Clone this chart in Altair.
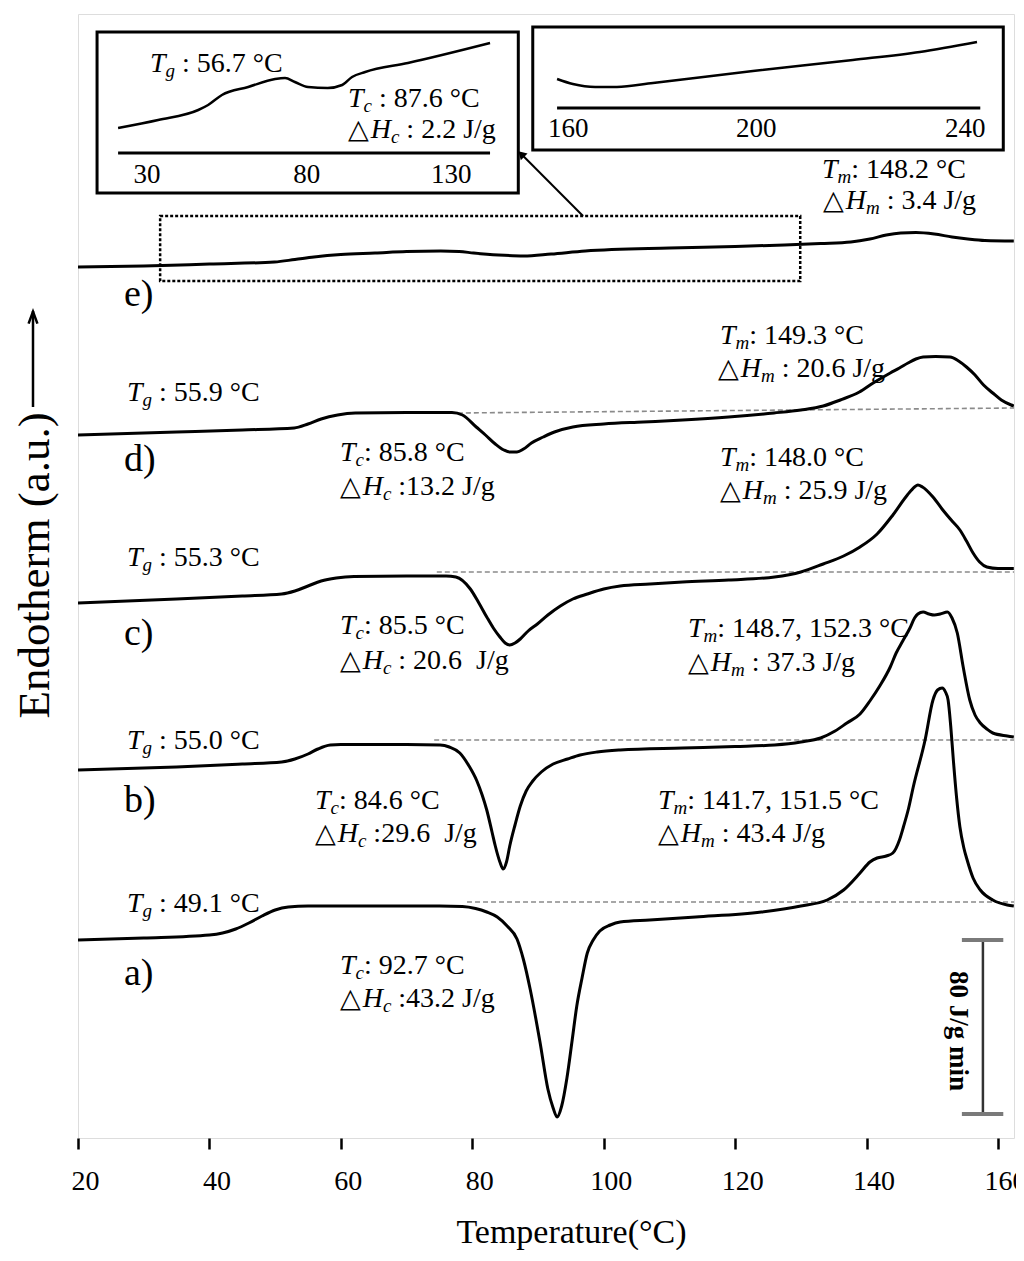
import altair as alt
import pandas as pd

# ---------------- scales / layout ----------------
X_MIN, X_MAX = 20.0, 162.43
Y_MIN, Y_MAX = 0.0, 1124.0
W, H = 936, 1124
KX = W / (X_MAX - X_MIN)          # px per degree (for text piece spacing)
FONT = "Liberation Serif"
TICKS = [20, 40, 60, 80, 100, 120, 140, 160]
NB = "\u00a0"                     # non-breaking space (SVG collapses plain spaces)

# ---------------- DSC curves (T in °C, heat flow in a.u.) ----------------
a_T = [20, 30, 40, 42, 44, 46, 48, 50, 52, 55, 65, 75, 78.5, 80.5, 82.2, 83.8, 85.3, 86.8, 87.8, 88.8,
       90.3, 91.5, 92.3, 92.9, 93.6, 94.4, 95.2, 95.9, 96.7, 97.5, 98.4, 99.4, 101, 102.5, 107, 114, 124,
       130, 134, 136.5, 139, 140.5, 141.6, 143, 144, 145, 145.6, 146.4, 147.1, 148.9, 150.1, 150.8, 151.5,
       152.0, 152.4, 152.8, 153.2, 153.7, 154.2, 154.8, 155.3, 156.2, 157.3, 159.2, 161.4, 162.4]
a_Y = [198, 200, 203, 205, 209, 215, 222, 228, 231, 232, 232, 232, 231.5, 229.5, 226, 221, 212, 199, 178, 149,
       96, 49, 30, 21, 32, 60, 98, 132, 160, 185, 198, 207, 213, 216, 218, 221, 226,
       232, 238, 248, 265, 276, 280, 282, 285, 298, 311, 330, 351, 398, 438, 448, 450,
       446, 438, 412, 378, 340, 311, 290, 278, 260, 248, 238, 233, 232]

b_T = [20, 35, 45, 51, 53, 55, 56.5, 58.4, 60, 70, 75.1, 76.5, 78.1, 79.5, 80.7, 81.5, 82.2, 83.0, 83.5, 84.2,
       84.7, 85.2, 85.7, 86.5, 87.3, 88.2, 89.2, 90.5, 92.3, 94.5, 96.4, 99, 102.5, 112, 120, 126, 130, 133,
       135.2, 137, 139, 140.5, 142, 143.6, 144.5, 145.5, 146.6, 147.3, 147.8, 148.6, 149.5, 150.3, 151.2,
       152.3, 153.0, 153.8, 154.7, 155.7, 156.5, 157.3, 158.3, 159.2, 161.4, 162.4]
b_Y = [368, 371, 374, 376, 379, 384, 389, 393, 393.5, 393.5, 393, 391, 385, 372, 357, 343, 328, 306, 292, 276,
       269, 276, 292, 313, 332, 347, 357, 366, 374, 379, 383, 386, 388, 390, 391.5, 393, 396, 400,
       407, 415, 424, 437, 452, 471, 485, 497, 510, 520, 524, 526, 524, 523, 524,
       526, 520, 505, 471, 438, 423, 415, 409, 405, 402, 401]

c_T = [20, 35, 45, 51, 53, 55, 57, 59.3, 62, 70, 76, 77.5, 79.7, 81, 82.2, 83.2, 84.2, 85.0, 85.7, 86.5,
       87.3, 88.5, 89.9, 91.5, 93.4, 95.3, 97.5, 100, 102.5, 107, 112, 119, 126, 130, 133.4, 136.5, 139,
       141.6, 144, 146.2, 147.3, 147.8, 148.5, 150.1, 151.6, 153, 154.2, 155.2, 156.2, 157.2, 158.3, 160, 162.4]
c_Y = [535, 539, 542, 544, 547, 552, 557, 560, 561.5, 562, 562, 561, 549, 535, 521, 510, 501, 495, 493, 495,
       499, 507, 514, 523, 532, 539, 544, 549, 552, 554, 556, 558, 561, 566, 574, 582, 591,
       604, 623, 643, 651, 653, 651, 641, 628, 617, 608, 597, 585, 576, 571, 569.5, 569.5]

d_T = [20, 35, 45, 52.9, 55, 57, 59.5, 62.2, 70, 76.9, 78.5, 80.6, 82, 83.5, 84.8, 85.7, 86.8, 87.8, 89, 90.8,
       92.5, 95.3, 100, 106, 112, 119, 125.9, 130, 133.4, 136, 138.9, 141, 143.6, 145, 146.3, 147.5, 148.6,
       150.5, 152.7, 154, 155.2, 156.5, 157.8, 159.2, 160.5, 162, 162.4]
d_Y = [703, 706, 708, 710, 714, 719, 723, 725, 725.5, 725.5, 723, 711, 703, 694, 688, 686, 686, 689, 695, 701,
       706, 711, 714, 716, 718, 721, 725, 728, 732, 738, 746, 755, 765, 770, 775, 779, 781,
       781.5, 781, 777, 771, 763, 753, 745, 738, 733, 732]

e_T = [20, 30, 40, 49.9, 53, 55.9, 60, 65.2, 70, 75.2, 78, 80.2, 84, 87.8, 92, 97.2, 110, 120, 127.5, 133,
       137.6, 140.5, 143, 145.2, 147.5, 150.3, 153, 155.4, 158, 162.4]
e_Y = [871, 872, 874, 876, 878.5, 881, 883.5, 885, 886.5, 887, 886.5, 885, 883, 882, 884, 887, 890, 891.5, 893, 894.5,
       896, 899, 903, 905, 905.5, 904, 901, 899, 897.5, 897]

# inset curves (drawn in the main chart's units)
i1_T = [26.1, 32.2, 38.3, 39.8, 41.9, 45.9, 50.0, 51.5, 53.0, 55.0, 58.0, 60.2, 61.7, 63.7, 70.2, 82.7]
i1_Y = [1010, 1018, 1028, 1033, 1043, 1051, 1059, 1060, 1056, 1051, 1050, 1053, 1061, 1066, 1075, 1095]
i2_T = [92.9, 95.3, 98.7, 102.0, 107.5, 122.7, 137.9, 148.1, 156.8]
i2_Y = [1059, 1054, 1051, 1051, 1055, 1067, 1078, 1086, 1096]

# baselines (dashed): T start, T end, Y start, Y end
base_T1 = [79.2, 74.2, 74.6, 77.8]
base_T2 = [X_MAX, X_MAX, X_MAX, X_MAX]
base_Y1 = [236, 398, 566, 725]
base_Y2 = [236, 398, 566, 730]

# inset frames, inset axis lines, inset tick labels
box_T1 = [22.9, 89.2]; box_T2 = [87.0, 160.8]; box_Y1 = [945, 988]; box_Y2 = [1106, 1111]
iax_T1 = [26.1, 92.9]; iax_T2 = [82.7, 157.3]; iax_Y = [985, 1030]
itick_T = [30.5, 54.8, 76.8, 94.6, 123.2, 155.0]
itick_Y = [955, 955, 955, 1001, 1001, 1001]
itick_txt = ["30", "80", "130", "160", "200", "240"]

# zoom window + arrow
zoom_T = [32.5, 129.9]; zoom_Y = [857, 922]
arrow_T = [96.85, 87.6]; arrow_Y = [922, 983]

# scale bar (80 J/g min)
sb_T = 157.7; sb_cap_T = [154.5, 160.8]; sb_Y = [24, 198]

# y-axis direction arrow (left of the frame)
yarrow_T = X_MIN - 45 / KX
yarrow_Y = [731, 829]

# curve letters
let_txt = ["a)", "b)", "c)", "d)", "e)"]
let_Y = [153, 326, 493, 667, 832]
let_T = 27.0

# annotations: (T, Y baseline, kind, subscript, rest)   "_" = visible space
ann = [
    (133.22, 960, "T", "m", ":_148.2_°C"), (133.37, 929, "D", "m", "_:_3.4_J/g"),
    (27.46, 737, "T", "g", "_:_55.9_°C"), (117.70, 794, "T", "m", ":_149.3_°C"),
    (117.39, 761, "D", "m", "_:_20.6_J/g"), (59.87, 677, "T", "c", ":_85.8_°C"),
    (59.87, 643, "D", "c", "_:13.2_J/g"),
    (27.46, 572, "T", "g", "_:_55.3_°C"), (117.70, 672, "T", "m", ":_148.0_°C"),
    (117.70, 639, "D", "m", "_:_25.9_J/g"), (59.87, 504, "T", "c", ":_85.5_°C"),
    (59.87, 469, "D", "c", "_:_20.6__J/g"),
    (27.46, 389, "T", "g", "_:_55.0_°C"), (112.83, 501, "T", "m", ":_148.7,_152.3_°C"),
    (112.83, 467, "D", "m", "_:_37.3_J/g"), (56.07, 329, "T", "c", ":_84.6_°C"),
    (56.07, 296, "D", "c", "_:29.6__J/g"),
    (27.46, 226, "T", "g", "_:_49.1_°C"), (108.26, 329, "T", "m", ":_141.7,_151.5_°C"),
    (108.26, 296, "D", "m", "_:_43.4_J/g"), (59.87, 164, "T", "c", ":_92.7_°C"),
    (59.87, 131, "D", "c", "_:43.2_J/g"),
    (30.96, 1066, "T", "g", "_:_56.7_°C"), (61.09, 1031, "T", "c", "_:_87.6_°C"),
    (61.09, 1000, "D", "c", "_:_2.2_J/g"),
]

# ---------------- build text pieces ----------------
F, S, SUB_DY, TRI = 28, 19, 5, 27
SUB_W = {"g": 0.5, "m": 0.722, "c": 0.444}
rows_it, rows_sub, rows_rm, rows_tri = [], [], [], []
for T0, Y0, kind, sub, rest in ann:
    off = 0.0
    if kind == "D":
        rows_tri.append({"T": T0, "Y": Y0, "txt": "△"})
        off += 0.84 * TRI
        rows_it.append({"T": T0 + off / KX, "Y": Y0, "txt": "H"})
        off += 0.722 * F
    else:
        rows_it.append({"T": T0, "Y": Y0, "txt": "T"})
        off += 0.556 * F
    rows_sub.append({"T": T0 + off / KX, "Y": Y0, "txt": sub})
    off += SUB_W[sub] * S
    while rest.startswith("_"):          # leading space -> explicit gap
        off += 0.25 * F
        rest = rest[1:]
    rows_rm.append({"T": T0 + off / KX, "Y": Y0, "txt": rest.replace("_", NB)})

# ---------------- encodings ----------------
xscale = alt.Scale(domain=[X_MIN, X_MAX], nice=False, zero=False)
yscale = alt.Scale(domain=[Y_MIN, Y_MAX], nice=False, zero=False)
xaxis = alt.Axis(values=TICKS, domain=False, grid=False, tickSize=11, tickWidth=2.5, tickColor="black",
                 labelFont=FONT, labelFontSize=28, labelColor="black", labelPadding=18, labelFlush=False,
                 labelOffset=7, labelOverlap=False, labelBound=False,
                 titleFont=FONT, titleFontSize=34, titleFontWeight="normal", titleColor="black",
                 titleX=493, titleY=104, titleBaseline="alphabetic")
yaxis = alt.Axis(labels=False, ticks=False, domain=False, grid=False,
                 titleFont=FONT, titleFontSize=45, titleFontWeight="normal", titleColor="black",
                 titleAngle=270, titleX=-44, titleY=704, titleAlign="left", titleBaseline="middle")


def X(f="T"):
    return alt.X(f + ":Q", scale=xscale, axis=xaxis, title="Temperature(°C)")


def Y(f="Y"):
    return alt.Y(f + ":Q", scale=yscale, axis=yaxis, title="Endotherm (a.u.)")


curves = []
for name, ts, ys in [("a", a_T, a_Y), ("b", b_T, b_Y), ("c", c_T, c_Y), ("d", d_T, d_Y), ("e", e_T, e_Y)]:
    for t, v in zip(ts, ys):
        curves.append({"T": t, "Y": v, "curve": name})
curves = pd.DataFrame(curves)

insets = []
for name, ts, ys in [("i1", i1_T, i1_Y), ("i2", i2_T, i2_Y)]:
    for t, v in zip(ts, ys):
        insets.append({"T": t, "Y": v, "curve": name})
insets = pd.DataFrame(insets)

base_df = pd.DataFrame({"T": base_T1, "T2": base_T2, "Y": base_Y1, "Y2": base_Y2})
box_df = pd.DataFrame({"T": box_T1, "T2": box_T2, "Y": box_Y1, "Y2": box_Y2})
iax_df = pd.DataFrame({"T": iax_T1, "T2": iax_T2, "Y": iax_Y})
itick_df = pd.DataFrame({"T": itick_T, "Y": itick_Y, "txt": itick_txt})
zoom_df = pd.DataFrame({"T": [zoom_T[0]], "T2": [zoom_T[1]], "Y": [zoom_Y[0]], "Y2": [zoom_Y[1]]})
arrow_df = pd.DataFrame({"T": [arrow_T[0]], "T2": [arrow_T[1]], "Y": [arrow_Y[0]], "Y2": [arrow_Y[1]]})
head_df = pd.DataFrame({"T": [arrow_T[1]], "Y": [arrow_Y[1]]})
sbv_df = pd.DataFrame({"T": [sb_T], "Y": [sb_Y[0]], "Y2": [sb_Y[1]]})
sbc_df = pd.DataFrame({"T": [sb_cap_T[0]] * 2, "T2": [sb_cap_T[1]] * 2, "Y": sb_Y})
sbt_df = pd.DataFrame({"T": [153.9], "Y": [107], "txt": ["80 J/g min"]})
let_df = pd.DataFrame({"T": [let_T] * 5, "Y": let_Y, "txt": let_txt})
ya_df = pd.DataFrame({"T": [yarrow_T], "Y": [yarrow_Y[0]], "Y2": [yarrow_Y[1] - 2]})
yah_df = pd.DataFrame({"T": [yarrow_T], "Y": [yarrow_Y[1] - 9]})

layers = []
layers.append(alt.Chart(base_df).mark_rule(color="#8a8a8a", strokeWidth=1.6, strokeDash=[5, 3]).encode(
    x=X(), x2="T2:Q", y=Y(), y2="Y2:Q"))
layers.append(alt.Chart(curves).mark_line(color="black", strokeWidth=3, interpolate="monotone", clip=True).encode(
    x=X(), y=Y(), detail="curve:N"))
layers.append(alt.Chart(zoom_df).mark_rect(fillOpacity=0, stroke="black", strokeWidth=2.5, strokeDash=[3, 2]).encode(
    x=X(), x2="T2:Q", y=Y(), y2="Y2:Q"))
layers.append(alt.Chart(arrow_df).mark_rule(color="black", strokeWidth=2).encode(
    x=X(), x2="T2:Q", y=Y(), y2="Y2:Q"))
layers.append(alt.Chart(head_df).mark_point(shape="triangle", filled=True, color="black", size=90, angle=315, opacity=1).encode(
    x=X(), y=Y()))
layers.append(alt.Chart(box_df).mark_rect(fill="white", stroke="black", strokeWidth=3).encode(
    x=X(), x2="T2:Q", y=Y(), y2="Y2:Q"))
layers.append(alt.Chart(iax_df).mark_rule(color="black", strokeWidth=3).encode(
    x=X(), x2="T2:Q", y=Y()))
layers.append(alt.Chart(insets).mark_line(color="black", strokeWidth=2.5, interpolate="monotone").encode(
    x=X(), y=Y(), detail="curve:N"))
layers.append(alt.Chart(itick_df).mark_text(font=FONT, fontSize=27, color="black", align="center", baseline="alphabetic").encode(
    x=X(), y=Y(), text="txt:N"))
layers.append(alt.Chart(sbv_df).mark_rule(color="#333333", strokeWidth=2.5).encode(
    x=X(), y=Y(), y2="Y2:Q"))
layers.append(alt.Chart(sbc_df).mark_rule(color="#7a7a7a", strokeWidth=4).encode(
    x=X(), x2="T2:Q", y=Y()))
layers.append(alt.Chart(sbt_df).mark_text(font=FONT, fontSize=27, fontWeight="bold", color="black", angle=90,
                                          align="center", baseline="middle").encode(x=X(), y=Y(), text="txt:N"))
layers.append(alt.Chart(let_df).mark_text(font=FONT, fontSize=38, color="black", align="left", baseline="alphabetic").encode(
    x=X(), y=Y(), text="txt:N"))
layers.append(alt.Chart(pd.DataFrame(rows_it)).mark_text(font=FONT, fontSize=F, fontStyle="italic", color="black",
                                                         align="left", baseline="alphabetic").encode(x=X(), y=Y(), text="txt:N"))
layers.append(alt.Chart(pd.DataFrame(rows_sub)).mark_text(font=FONT, fontSize=S, fontStyle="italic", color="black",
                                                          align="left", baseline="alphabetic", dy=SUB_DY).encode(x=X(), y=Y(), text="txt:N"))
layers.append(alt.Chart(pd.DataFrame(rows_rm)).mark_text(font=FONT, fontSize=F, color="black",
                                                         align="left", baseline="alphabetic").encode(x=X(), y=Y(), text="txt:N"))
layers.append(alt.Chart(pd.DataFrame(rows_tri)).mark_text(font="DejaVu Sans", fontSize=TRI, color="black",
                                                          align="left", baseline="alphabetic").encode(x=X(), y=Y(), text="txt:N"))
# y-axis "endotherm up" arrow
layers.append(alt.Chart(ya_df).mark_rule(color="black", strokeWidth=2.5).encode(x=X(), y=Y(), y2="Y2:Q"))
layers.append(alt.Chart(yah_df).mark_point(shape="M -0.7 0.9 L 0 -1 L 0.7 0.9", filled=False, color="black",
                                           strokeWidth=2.5, size=160, opacity=1).encode(x=X(), y=Y()))

chart = alt.layer(*layers).properties(
    width=W, height=H,
    autosize=alt.AutoSizeParams(type="none"),
    padding={"left": 70, "top": 6, "right": 2, "bottom": 112},
).configure_view(stroke="black", strokeWidth=3).configure(background="white")

chart.save("out.html", embed_options={"renderer": "svg", "actions": False})
